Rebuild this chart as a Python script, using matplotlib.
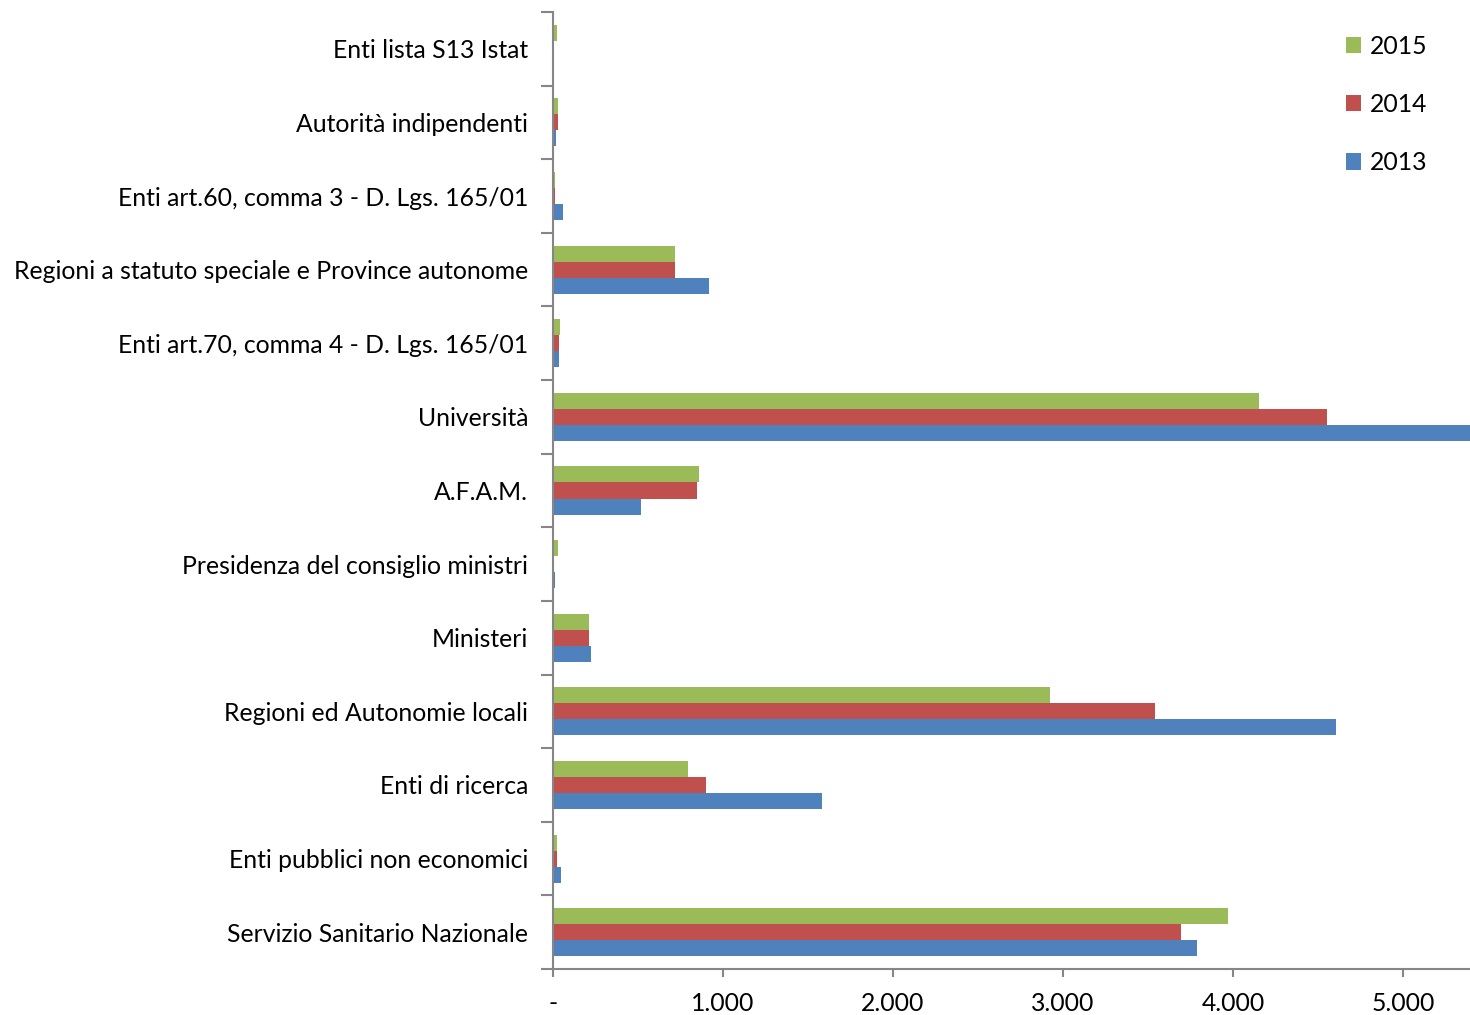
import matplotlib
matplotlib.use("Agg")
import matplotlib.pyplot as plt
import numpy as np
from matplotlib.ticker import FixedLocator, FuncFormatter
from matplotlib.patches import Patch

# Categories listed bottom to top
categories = [
    "Servizio Sanitario Nazionale",
    "Enti pubblici non economici",
    "Enti di ricerca",
    "Regioni ed Autonomie locali",
    "Ministeri",
    "Presidenza del consiglio ministri",
    "A.F.A.M.",
    "Università",
    "Enti art.70, comma 4 - D. Lgs. 165/01",
    "Regioni a statuto speciale e Province autonome",
    "Enti art.60, comma 3 - D. Lgs. 165/01",
    "Autorità indipendenti",
    "Enti lista S13 Istat",
]
values_2013 = [3791, 47, 1582, 4606, 224, 10, 518, 5450, 38, 918, 59, 16, 0]
values_2014 = [3694, 22, 900, 3541, 212, 8, 847, 4553, 34, 718, 12, 28, 0]
values_2015 = [3968, 22, 794, 2924, 212, 28, 859, 4153, 44, 718, 12, 28, 24]
series_labels = ["2013", "2014", "2015"]
colors = ["#4F81BD", "#C0504D", "#9BBB59"]
xticks = [0, 1000, 2000, 3000, 4000, 5000]

plt.rcParams['font.family'] = ['Lato', 'DejaVu Sans']
FS = 17.8

fig = plt.figure(figsize=(14.7, 10.15), dpi=100)
ax = fig.add_axes([553/1470, 46/1015, 1 - 553/1470, (1003-46)/1015])

n = len(categories)
y = np.arange(n)
h = 0.218
series = [values_2013, values_2014, values_2015]
for i, (vals, c) in enumerate(zip(series, colors)):
    ax.barh(y + (i - 1) * h, vals, height=h, color=c, linewidth=0)

ax.set_ylim(-0.5, n - 0.5)
ax.set_xlim(0, 5394)

ax.set_yticks(y)
ax.set_yticklabels(categories, fontsize=FS)
ax.yaxis.set_minor_locator(FixedLocator(np.arange(-0.5, n, 1.0)))
ax.tick_params(axis='y', which='major', length=0, pad=18)
ax.tick_params(axis='y', which='minor', length=9, width=1.5, color='#868686')

ax.set_xticks(xticks)
ax.xaxis.set_major_formatter(FuncFormatter(lambda v, p: "-" if v == 0 else f"{int(v):,}".replace(",", ".")))
ax.tick_params(axis='x', which='major', length=6, width=1.5, color='#868686', labelsize=FS, pad=10.5)

for s in ['top', 'right']:
    ax.spines[s].set_visible(False)
for s in ['left', 'bottom']:
    ax.spines[s].set_color('#868686')
    ax.spines[s].set_linewidth(1.5)

handles = [Patch(facecolor=colors[i], label=series_labels[i]) for i in [2, 1, 0]]
fig.legend(handles=handles, loc='upper left', bbox_to_anchor=(1346/1470, 1 - 35/1015),
           frameon=False, fontsize=FS, handlelength=0.62, handleheight=0.62,
           handletextpad=0.35, labelspacing=1.42, borderaxespad=0, borderpad=0)

fig.savefig("out.png", dpi=100)
